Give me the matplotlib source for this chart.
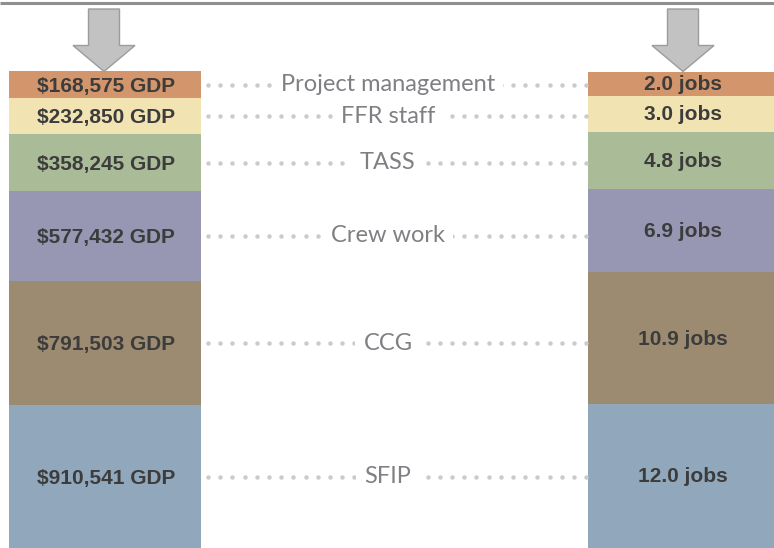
import matplotlib
matplotlib.use("Agg")
import matplotlib.pyplot as plt
from matplotlib.patches import FancyArrow
import numpy as np

# ---- data (top of stack first) ----
categories = ["Project management", "FFR staff", "TASS", "Crew work", "CCG", "SFIP"]
gdp = [168575, 232850, 358245, 577432, 791503, 910541]
jobs = [2.0, 3.0, 4.8, 6.9, 10.9, 12.0]
gdp_labels = [f"${v:,.0f} GDP" for v in gdp]
job_labels = [f"{v:.1f} jobs" for v in jobs]
colors = ["#D3956B", "#F2E3B3", "#AABB98", "#9797B3", "#9C8B70", "#91A7BB"]

W, H = 774, 548
fig = plt.figure(figsize=(W / 100, H / 100), dpi=100)
ax = fig.add_axes([0, 0, 1, 1])
ax.set_xlim(0, W)
ax.set_ylim(0, H)
ax.axis("off")

stack_h = 476.5
left_x, right_x, bar_w = 105, 684, 192
label_x = 388


def stack(values):
    v = np.array(values, dtype=float)
    hts = v / v.sum() * stack_h
    bottoms = np.array([hts[i + 1:].sum() for i in range(len(hts))])
    return hts, bottoms


lh, lb = stack(gdp)
rh, rb = stack(jobs)

ax.bar([left_x] * len(gdp), lh, bottom=lb, width=bar_w, color=colors, linewidth=0)
ax.bar([right_x] * len(jobs), rh, bottom=rb, width=bar_w, color=colors, linewidth=0)

bar_font = dict(family=["Liberation Sans", "DejaVu Sans"], fontweight="bold",
                fontsize=15, color="#3c3c3c", ha="center", va="center")
for h, b, t in zip(lh, lb, gdp_labels):
    ax.text(left_x + 1, b + h / 2 - 1.5, t, **bar_font)
for h, b, t in zip(rh, rb, job_labels):
    ax.text(right_x - 1, b + h / 2 - 1, t, **bar_font)

# dotted connectors and middle labels
dot_x = np.arange(208, 587, 12.2)
for h, b, c in zip(lh, lb, categories):
    y = b + h / 2
    ax.plot(dot_x, np.full_like(dot_x, y), linestyle="none", marker="o",
            markersize=3.2, markeredgewidth=0, color="#cbcbcb", zorder=2)
    ax.text(label_x, y, c, fontsize=17, color="#808084",
            family=["Lato", "DejaVu Sans"], ha="center", va="center",
            bbox=dict(facecolor="white", edgecolor="none", pad=6), zorder=3)

# arrows
for x in (left_x - 1, right_x - 1):
    top = H - 9
    ax.add_patch(FancyArrow(x, top, 0, -(top - stack_h), width=31,
                            head_width=62, head_length=26,
                            length_includes_head=True,
                            facecolor="#c2c2c2", edgecolor="#9c9c9c", lw=1.0,
                            zorder=4))

# top rule
ax.plot([0, W], [H - 3, H - 3], color="#8f8f8f", lw=2.2, solid_capstyle="butt")

fig.savefig("out.png", dpi=100)
